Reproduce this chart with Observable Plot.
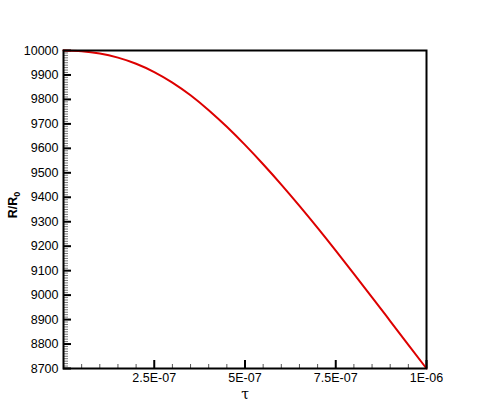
<!DOCTYPE html>
<html>
<head>
<meta charset="utf-8">
<script src="https://cdn.jsdelivr.net/npm/d3@7"></script>
<script src="https://cdn.jsdelivr.net/npm/@observablehq/plot@0.6"></script>
<style>
  html, body { margin: 0; padding: 0; background: #fff; }
</style>
</head>
<body>
<div id="chart"></div>
<script>
// Data
const tau = [0, 0.5e-7, 1.0e-7, 1.5e-7, 2.0e-7, 2.5e-7, 3.0e-7, 3.5e-7, 4.0e-7, 4.5e-7,
             5.0e-7, 5.5e-7, 6.0e-7, 6.5e-7, 7.0e-7, 7.5e-7, 8.0e-7, 8.5e-7, 9.0e-7, 9.5e-7, 1.0e-6];
const ratio = [10000, 9997, 9988, 9971, 9946, 9912, 9869, 9817, 9756, 9688,
               9614, 9535, 9452, 9365, 9275, 9182, 9087, 8991, 8894, 8797, 8700];

const xTicks = [2.5e-7, 5e-7, 7.5e-7, 1e-6];
const xMinorTicks = d3.range(1, 20).map(i => i * 5e-8).filter(v => !xTicks.some(t => Math.abs(t - v) < 1e-12));
const yTicks = d3.range(8700, 10001, 100);
const yMinorTicks = d3.range(8700, 10001, 10).filter(v => v % 100 !== 0);
const xTitle = ["τ"];

const data = tau.map((t, i) => ({t, r: ratio[i]}));

function fmtE(d) {
  const [m, e] = d.toExponential().split("e");
  const sign = e[0] === "-" ? "-" : "+";
  const n = e.replace(/^[+-]/, "").padStart(2, "0");
  return `${m}E${sign}${n}`;
}

const svg = Plot.plot({
  width: 485,
  height: 415,
  marginLeft: 63,
  marginRight: 59,
  marginTop: 50,
  marginBottom: 47,
  style: {fontFamily: "'Liberation Sans', Arial, sans-serif", fontSize: "12.5px", background: "#fff", color: "#000"},
  x: {domain: [0, 1e-6], axis: null, label: null},
  y: {domain: [8700, 10000], axis: null, label: null},
  marks: [
    Plot.axisX(xMinorTicks, {anchor: "bottom", tickSize: -4, strokeWidth: 1, stroke: "#555", tickFormat: () => "", label: null}),
    Plot.axisX(xTicks, {anchor: "bottom", tickSize: -8, tickPadding: 13, strokeWidth: 2, tickFormat: fmtE, label: null}),
    Plot.axisY(yMinorTicks, {anchor: "left", tickSize: -5, strokeWidth: 1, stroke: "#777", tickFormat: () => "", label: null}),
    Plot.axisY(yTicks, {anchor: "left", tickSize: -8, tickPadding: 13, strokeWidth: 2, tickFormat: d => String(d), label: null}),
    Plot.line(data, {x: "t", y: "r", stroke: "#dd0000", strokeWidth: 2, curve: "natural"}),
    Plot.frame({stroke: "#000", strokeWidth: 2}),
    Plot.text(xTitle, {frameAnchor: "bottom", lineAnchor: "middle", dy: 26, fontSize: 14, fontFamily: "'DejaVu Serif', serif"})
  ]
});

// y-axis title with subscript
const yl = d3.select(svg).append("text")
  .attr("transform", "translate(17,205) rotate(-90)")
  .attr("text-anchor", "middle")
  .attr("font-family", "'Liberation Sans', Arial, sans-serif")
  .attr("font-weight", "bold")
  .attr("font-size", 12.5)
  .attr("fill", "#000");
yl.append("tspan").text("R/R");
yl.append("tspan").attr("font-size", 9).attr("dy", 3).text("0");

document.getElementById("chart").appendChild(svg);
</script>
</body>
</html>
